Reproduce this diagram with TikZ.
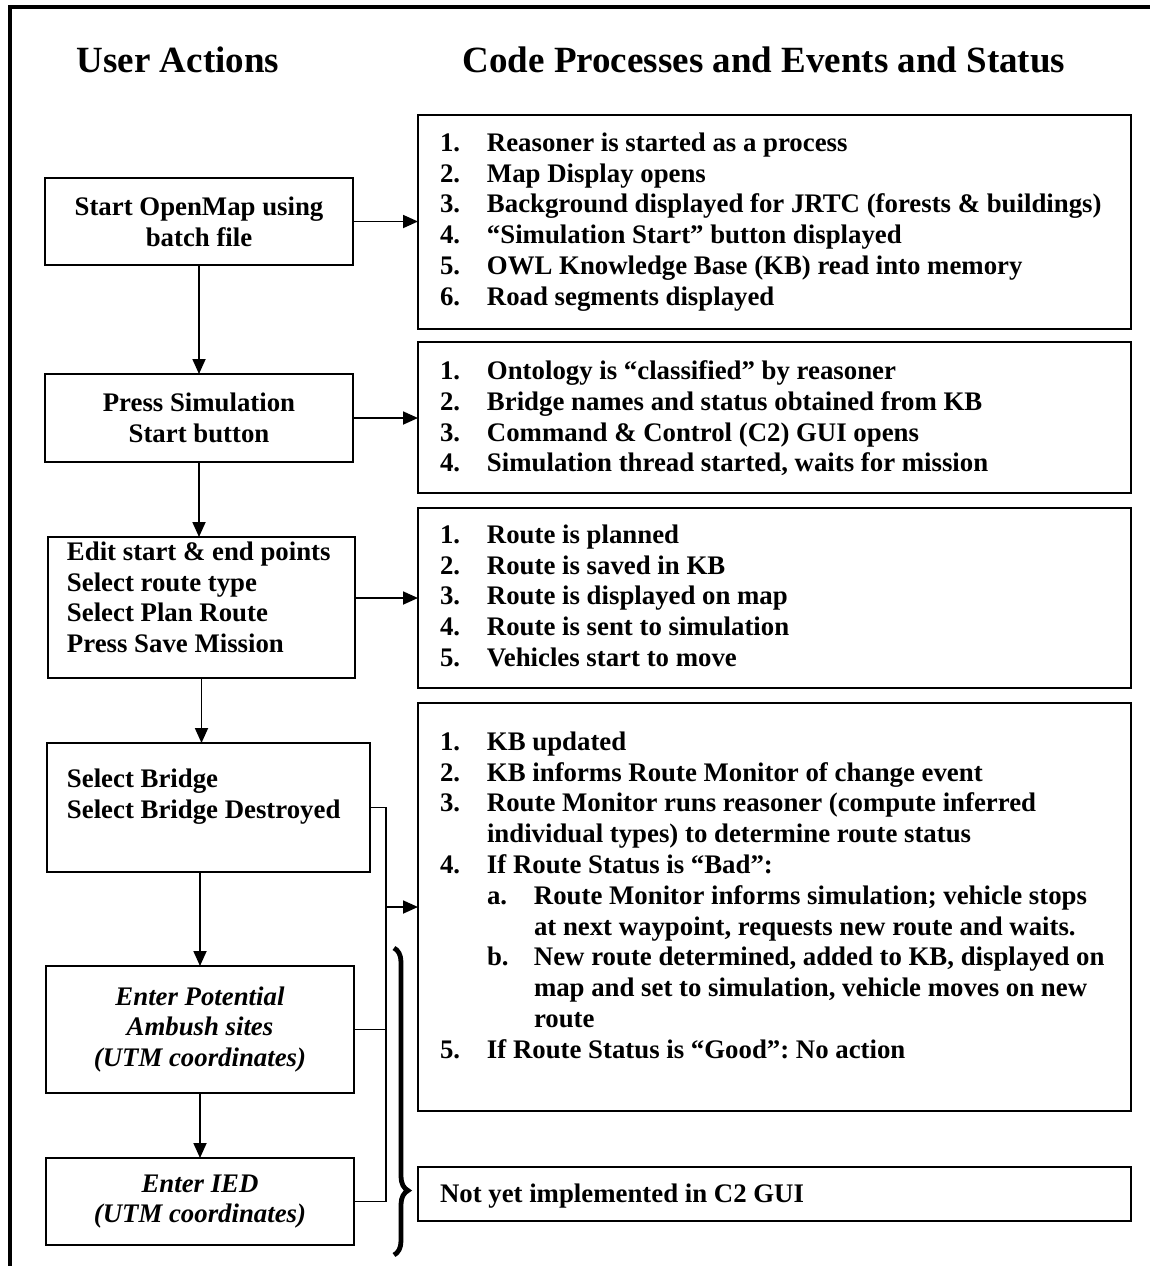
\documentclass[tikz,border=0pt]{standalone}
\usepackage{fontspec}
\setmainfont{Liberation Serif}
\usetikzlibrary{arrows.meta,decorations.pathreplacing,calc}
\newcommand\ritem[2]{\makebox[23.5pt][l]{#1}#2}
\newcommand\rcont{\hspace*{23.5pt}}
\frenchspacing
\begin{document}
\begin{tikzpicture}[x=0.5pt,y=-0.5pt,
  box/.style={draw,line width=1.4pt,inner sep=0pt,outer sep=0pt,align=center,
    font=\bfseries\fontsize{13.4}{15.4}\selectfont},
  ibox/.style={box,font=\bfseries\itshape\fontsize{13.4}{15.4}\selectfont},
  txt/.style={inner sep=0pt,outer sep=0pt,anchor=north west,align=left,
    font=\bfseries\fontsize{13.4}{15.4}\selectfont},
  title/.style={inner sep=0pt,font=\bfseries\fontsize{18.5}{22}\selectfont},
  conn/.style={line width=0.9pt,-{Triangle[length=7.5pt,width=6.5pt]}},
  wire/.style={line width=0.9pt}
]
\useasboundingbox (0,0) rectangle (1150,1266);
% outer frame (left and top)
\draw[line width=1.7pt] (10,1275) -- (10,7) -- (1160,7);
% titles
\node[title] (t1) at (178,60) {User Actions};
\node[title] (t2) at (764,60) {Code Processes and Events and Status};
% left boxes
\node[box,minimum width=154pt,minimum height=43.5pt] (b1) at (199,221.5) {Start OpenMap using\\batch file};
\node[box,minimum width=154pt,minimum height=44pt] (b2) at (199,418) {Press Simulation\\Start button};
\node[box,minimum width=153.5pt,minimum height=70.5pt] (b3) at (201.5,607.5) {};
\node[txt] (b3t) at (67,541.6) {Edit start \& end points\\Select route type\\Select Plan Route\\Press Save Mission};
\node[box,minimum width=161.5pt,minimum height=64.5pt] (b4) at (208.5,807.5) {};
\node[txt] (b4t) at (67,768.6) {Select Bridge\\Select Bridge Destroyed};
\node[ibox,minimum width=154pt,minimum height=63.5pt] (b5) at (200,1029.5) {Enter Potential\\Ambush sites\\(UTM coordinates)};
\node[ibox,minimum width=154pt,minimum height=43.5pt] (b6) at (200,1201.5) {Enter IED\\(UTM coordinates)};
% right boxes
\node[box,minimum width=356.5pt,minimum height=107pt] (r1) at (774.5,222) {};
\node[box,minimum width=356.5pt,minimum height=75.5pt] (r2) at (774.5,417.5) {};
\node[box,minimum width=356.5pt,minimum height=90pt] (r3) at (774.5,598) {};
\node[box,minimum width=356.5pt,minimum height=204pt] (r4) at (774.5,907) {};
\node[box,minimum width=356.5pt,minimum height=27pt] (r5) at (774.5,1194) {};
\node[txt] (r1t) at (440,132.6) {\ritem{1.}{Reasoner is started as a process}\\
\ritem{2.}{Map Display opens}\\
\ritem{3.}{Background displayed for JRTC (forests \& buildings)}\\
\ritem{4.}{“Simulation Start” button displayed}\\
\ritem{5.}{OWL Knowledge Base (KB) read into memory}\\
\ritem{6.}{Road segments displayed}};
\node[txt] (r2t) at (440,360.6) {\ritem{1.}{Ontology is “classified” by reasoner}\\
\ritem{2.}{Bridge names and status obtained from KB}\\
\ritem{3.}{Command \& Control (C2) GUI opens}\\
\ritem{4.}{Simulation thread started, waits for mission}};
\node[txt] (r3t) at (440,524.6) {\ritem{1.}{Route is planned}\\
\ritem{2.}{Route is saved in KB}\\
\ritem{3.}{Route is displayed on map}\\
\ritem{4.}{Route is sent to simulation}\\
\ritem{5.}{Vehicles start to move}};
\node[txt] (r4t) at (440,731.6) {\ritem{1.}{KB updated}\\
\ritem{2.}{KB informs Route Monitor of change event}\\
\ritem{3.}{Route Monitor runs reasoner (compute inferred}\\
\rcont individual types) to determine route status\\
\ritem{4.}{If Route Status is “Bad”:}\\
\rcont\ritem{a.}{Route Monitor informs simulation; vehicle stops}\\
\rcont\rcont at next waypoint, requests new route and waits.\\
\rcont\ritem{b.}{New route determined, added to KB, displayed on}\\
\rcont\rcont map and set to simulation, vehicle moves on new\\
\rcont\rcont route\\
\ritem{5.}{If Route Status is “Good”: No action}};
\node[txt] (r5t) at (440,1183.6) {Not yet implemented in C2 GUI};
% vertical flow arrows
\draw[conn] (b1.south) -- (b2.north);
\draw[conn] (b2.south) -- (b2.south |- b3.north);
\draw[conn] (b3.south) -- (b3.south |- b4.north);
\draw[conn] (b4.south -| b5.north) -- (b5.north);
\draw[conn] (b5.south) -- (b6.north);
% horizontal arrows
\draw[conn] (b1.east) -- (b1.east -| r1.west);
\draw[conn] (b2.east) -- (b2.east -| r2.west);
\draw[conn] (r3.west -| b3.east) -- (r3.west);
% collector
\coordinate (jt) at (386,807.5);
\coordinate (jb) at (386,1201.5);
\draw[wire] (b4.east) -- (jt) -- (jb);
\draw[wire] (b5.east) -- (b5.east -| jt);
\draw[wire] (b6.east) -- (jb);
\draw[conn] (r4.west -| jt) -- (r4.west);
% brace
\coordinate (bra) at (394,948);
\coordinate (brb) at (394,1255);
\draw[line width=2.4pt,decorate,decoration={brace,amplitude=7pt,aspect=0.79}] (bra) -- (brb);
\end{tikzpicture}
\end{document}
